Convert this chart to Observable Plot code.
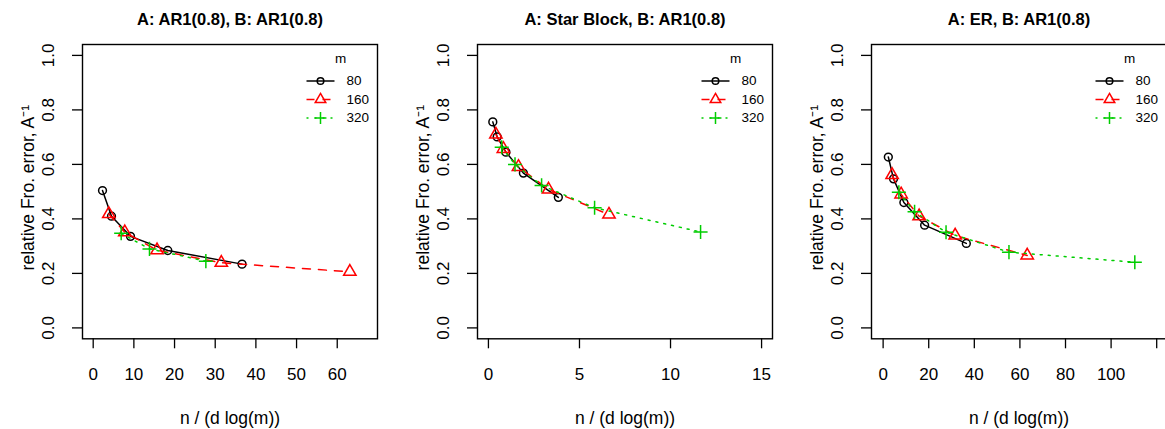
<!DOCTYPE html>
<html><head><meta charset="utf-8">
<script src="https://cdn.jsdelivr.net/npm/d3@7"></script>
<script src="https://cdn.jsdelivr.net/npm/@observablehq/plot@0.6"></script>
<style>
html,body{margin:0;padding:0;background:#fff;}
body{width:1165px;height:429px;overflow:hidden;font-family:"Liberation Sans",Arial,Helvetica,sans-serif;}
#wrap{position:relative;width:1165px;height:429px;overflow:hidden;}
.panel{position:absolute;top:0;width:394px;height:429px;}
.panel svg{max-width:none !important;}
</style></head>
<body><div id="wrap"></div>
<script>
// ---------- data ----------
const titles = ["A: AR1(0.8), B: AR1(0.8)", "A: Star Block, B: AR1(0.8)", "A: ER, B: AR1(0.8)"];
const xLabel = "n / (d log(m))";
const yLabel = "relative Fro. error, A\u207B\u00B9";
const legendTitle = "m";
const mValues = [80, 160, 320];
const yTicks = [0, 0.2, 0.4, 0.6, 0.8, 1.0];
const xTicks1 = [0, 10, 20, 30, 40, 50, 60];
const xTicks2 = [0, 5, 10, 15];
const xTicks3 = [0, 20, 40, 60, 80, 100, 120];

// Panel 1: A: AR1(0.8), B: AR1(0.8)
const p1x80 = [2.29, 4.5, 9.17, 18.34, 36.6];
const p1y80 = [0.504, 0.410, 0.336, 0.284, 0.234];
const p1x160 = [3.84, 7.77, 15.7, 31.5, 63.1];
const p1y160 = [0.418, 0.351, 0.285, 0.239, 0.206];
const p1x320 = [6.88, 13.84, 27.7];
const p1y320 = [0.347, 0.290, 0.245];

// Panel 2: A: Star Block, B: AR1(0.8)
const p2x80 = [0.24, 0.48, 0.96, 1.92, 3.84];
const p2y80 = [0.756, 0.701, 0.645, 0.568, 0.479];
const p2x160 = [0.41, 0.82, 1.65, 3.3, 6.62];
const p2y160 = [0.710, 0.657, 0.591, 0.508, 0.416];
const p2x320 = [0.73, 1.46, 2.92, 5.83, 11.65];
const p2y320 = [0.663, 0.600, 0.523, 0.441, 0.352];

// Panel 3: A: ER, B: AR1(0.8)
const p3x80 = [2.28, 4.56, 9.1, 18.2, 36.5];
const p3y80 = [0.627, 0.547, 0.460, 0.377, 0.310];
const p3x160 = [3.95, 7.9, 15.8, 31.6, 63.2];
const p3y160 = [0.561, 0.490, 0.410, 0.339, 0.266];
const p3x320 = [6.9, 13.8, 27.6, 55.2, 110.4];
const p3y320 = [0.498, 0.426, 0.351, 0.278, 0.241];

// ---------- layout / style ----------
const W = 394, H = 429;
const M = {top: 44, right: 17, bottom: 90.7, left: 82};
const panelLeft = [0, 394.5, 789];
const yDomain = [-0.04, 1.04];
const FONT = '"Liberation Sans", Arial, Helvetica, sans-serif';
const seriesStyle = {
  80:  {stroke: "#000000", dash: undefined, symbol: "circle", r: 3.9},
  160: {stroke: "#FF0000", dash: "8,8", symbol: "triangle", r: 4.6},
  320: {stroke: "#00CD00", dash: "2,6", symbol: "plus", r: 4.6}
};

const panels = [
  {title: titles[0], xs: [p1x80, p1x160, p1x320], ys: [p1y80, p1y160, p1y320], xDomain: [-2.63, 69.9], xTicks: xTicks1, xFmt: d => String(d)},
  {title: titles[1], xs: [p2x80, p2x160, p2x320], ys: [p2y80, p2y160, p2y320], xDomain: [-0.6, 15.6], xTicks: xTicks2, xFmt: d => String(d)},
  {title: titles[2], xs: [p3x80, p3x160, p3x320], ys: [p3y80, p3y160, p3y320], xDomain: [-5.1, 124.3], xTicks: xTicks3, xFmt: d => d > 100 ? "" : String(d)}
];

const segSymbol = {draw(ctx) { ctx.moveTo(-14, 0); ctx.lineTo(14, 0); }};

const wrap = document.getElementById("wrap");
panels.forEach((p, i) => {
  const rows = [];
  mValues.forEach((m, k) => p.xs[k].forEach((x, j) => rows.push({m, x, y: p.ys[k][j]})));
  const marks = [];
  mValues.forEach(m => {
    const s = seriesStyle[m];
    const d = rows.filter(r => r.m === m);
    marks.push(Plot.line(d, {x: "x", y: "y", stroke: s.stroke, strokeWidth: 1.5, strokeDasharray: s.dash}));
    marks.push(Plot.dot(d, {x: "x", y: "y", symbol: s.symbol, r: s.r, stroke: s.stroke, strokeWidth: 1.5, fill: "none"}));
  });
  marks.push(Plot.frame({stroke: "black", strokeWidth: 1.4}));
  marks.push(Plot.axisX({ticks: p.xTicks, tickSize: 10, tickPadding: 19, fontSize: 17, label: null, tickFormat: p.xFmt, strokeWidth: 1.3}));
  marks.push(Plot.axisY({anchor: "left", ticks: yTicks, tickSize: 10, tickPadding: 19, tickRotate: -90, fontSize: 17, label: null, tickFormat: d3.format(".1f"), strokeWidth: 1.3}));
  // title
  marks.push(Plot.text([p.title], {text: d => d, frameAnchor: "top", dy: -20, lineAnchor: "bottom", textAnchor: "middle", fontWeight: "bold", fontSize: 16.5}));
  // axis labels
  marks.push(Plot.text([xLabel], {text: d => d, frameAnchor: "bottom", dy: 85, lineAnchor: "bottom", textAnchor: "middle", fontSize: 17.5}));
  marks.push(Plot.text([yLabel], {text: d => d, frameAnchor: "left", dx: -54.3, dy: -4, rotate: -90, textAnchor: "middle", lineAnchor: "middle", fontSize: 17.5}));
  // legend
  marks.push(Plot.text([legendTitle], {text: d => d, frameAnchor: "top-right", dx: -37, dy: 14, textAnchor: "middle", lineAnchor: "middle", fontSize: 13.5}));
  mValues.forEach((m, k) => {
    const s = seriesStyle[m];
    const dy = 36.5 + k * 18.5;
    marks.push(Plot.dot([m], {frameAnchor: "top-right", dx: -57, dy, symbol: segSymbol, stroke: s.stroke, strokeWidth: 1.5, strokeDasharray: s.dash, fill: "none"}));
    marks.push(Plot.dot([m], {frameAnchor: "top-right", dx: -57, dy, symbol: s.symbol, r: s.r * 0.85, stroke: s.stroke, strokeWidth: 1.5, fill: "none"}));
    marks.push(Plot.text([m], {text: d => String(d), frameAnchor: "top-right", dx: -31, dy, textAnchor: "start", lineAnchor: "middle", fontSize: 13.5}));
  });
  const svg = Plot.plot({
    width: W, height: H,
    marginTop: M.top, marginRight: M.right, marginBottom: M.bottom, marginLeft: M.left,
    x: {domain: p.xDomain},
    y: {domain: yDomain},
    style: {fontFamily: FONT, color: "black", background: "white", overflow: "visible", maxWidth: "none"},
    marks
  });
  const div = document.createElement("div");
  div.className = "panel";
  div.style.left = panelLeft[i] + "px";
  div.appendChild(svg);
  wrap.appendChild(div);
});
</script>
</body></html>
